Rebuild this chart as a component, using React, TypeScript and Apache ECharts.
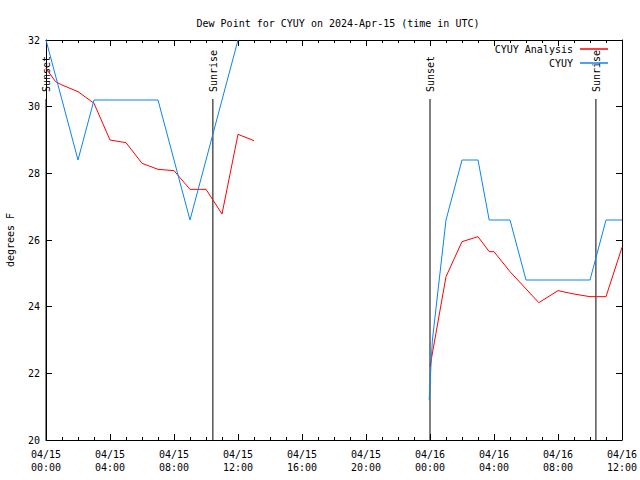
import React, { useEffect, useRef } from "react";
import * as echarts from "echarts";

// Hours since 2024-04-15 00:00 UTC
const analysisHours = [0, 0.6, 1, 2, 3, 4, 5, 6, 7, 8, 9, 10, 11, 12, 13, 18, 24, 25, 26, 27, 27.7, 28, 29, 30.8, 32, 33, 34, 35, 36];
const analysisDew = [31.15, 30.75, 30.65, 30.45, 30.1, 29.0, 28.92, 28.3, 28.12, 28.08, 27.52, 27.52, 26.78, 29.17, 28.98, null, 22.2, 24.9, 25.95, 26.1, 25.65, 25.65, 25.05, 24.12, 24.48, 24.38, 24.3, 24.3, 25.78];

const obsHours = [0, 1, 2, 3, 4, 5, 6, 7, 8, 9, 10, 11, 12, 18, 23.95, 24.0, 24.15, 25, 26, 27, 27.7, 28, 29, 30, 31, 32, 33, 34, 35, 36];
const obsDew = [32.0, 30.2, 28.4, 30.2, 30.2, 30.2, 30.2, 30.2, 28.4, 26.6, 28.4, 30.2, 32.0, null, 21.2, 21.7, 23.0, 26.6, 28.4, 28.4, 26.6, 26.6, 26.6, 24.8, 24.8, 24.8, 24.8, 24.8, 26.6, 26.6];

const sunHours = [0, 10.43, 24.0, 34.37];
const sunLabels = ["Sunset", "Sunrise", "Sunset", "Sunrise"];

const dayLabels = ["04/15", "04/16"];
const seriesNames = ["CYUY Analysis", "CYUY"];
const titleText = "Dew Point for CYUY on 2024-Apr-15 (time in UTC)";

const FONT = "DejaVu Sans Mono";

function pairs(xs: number[], ys: (number | null)[]) {
  return xs.map((x, i) => [x, ys[i] === null ? "-" : ys[i]]);
}

function fmtTime(v: number) {
  const idx = Math.min(Math.floor(v / 24), dayLabels.length - 1);
  const day = dayLabels[idx];
  const h = v === 36 ? 12 : Math.round(v % 24);
  const hh = String(h).padStart(2, "0");
  return `${day}\n${hh}:00`;
}

export default function App() {
  const ref = useRef<HTMLDivElement>(null);
  useEffect(() => {
    if (!ref.current) return;
    const chart = echarts.init(ref.current, undefined, { renderer: "svg" });
    const black = "#000";
    const tickCommon = {
      axisLine: { show: true, onZero: false, lineStyle: { color: black, width: 1 } },
      axisTick: { show: true, inside: true, length: 6, lineStyle: { color: black } },
      splitLine: { show: false },
    };
    chart.setOption({
      animation: false,
      backgroundColor: "#fff",
      textStyle: { fontFamily: FONT },
      title: {
        text: titleText,
        left: 333,
        top: 13,
        textAlign: "center",
        textStyle: { fontFamily: FONT, fontSize: 10, fontWeight: "normal", color: black },
      },
      legend: {
        data: seriesNames,
        orient: "vertical",
        right: 27,
        top: 39,
        align: "right",
        icon: "rect",
        itemWidth: 28,
        itemHeight: 1.5,
        itemGap: 4,
        textStyle: { fontFamily: FONT, fontSize: 10, color: black, padding: [0, 2, 0, 0] },
      },
      grid: { left: 46, right: 18, top: 40, bottom: 40, containLabel: false, outerBoundsMode: "none" },
      xAxis: [
        {
          type: "value",
          min: 0,
          max: 36,
          interval: 4,
          position: "bottom",
          ...tickCommon,
          minorTick: { show: true, splitNumber: 4, length: 3, lineStyle: { color: black } },
          minorSplitLine: { show: false },
          axisLabel: {
            formatter: fmtTime,
            color: black,
            fontFamily: FONT,
            fontSize: 10,
            lineHeight: 13,
            margin: 8,
          },
        },
        {
          type: "value",
          min: 0,
          max: 36,
          interval: 4,
          position: "top",
          ...tickCommon,
          minorTick: { show: true, splitNumber: 4, length: 3, lineStyle: { color: black } },
          axisLabel: { show: false },
        },
      ],
      yAxis: [
        {
          type: "value",
          min: 20,
          max: 32,
          interval: 2,
          position: "left",
          name: "degrees F",
          nameLocation: "middle",
          nameGap: 31,
          nameTextStyle: { fontFamily: FONT, fontSize: 10, color: black },
          ...tickCommon,
          axisLabel: { color: black, fontFamily: FONT, fontSize: 10, margin: 6 },
        },
        {
          type: "value",
          min: 20,
          max: 32,
          interval: 2,
          position: "right",
          ...tickCommon,
          axisLabel: { show: false },
        },
      ],
      series: [
        {
          name: seriesNames[0],
          type: "line",
          data: pairs(analysisHours, analysisDew),
          showSymbol: false,
          connectNulls: false,
          lineStyle: { color: "#ff0000", width: 1 },
          itemStyle: { color: "#ff0000" },
        },
        {
          name: seriesNames[1],
          type: "line",
          data: pairs(obsHours, obsDew),
          showSymbol: false,
          connectNulls: false,
          lineStyle: { color: "#0a84f0", width: 1 },
          itemStyle: { color: "#0a84f0" },
        },
        {
          name: "sun",
          type: "custom",
          data: sunHours.map((h) => [h]),
          clip: false,
          silent: true,
          renderItem: (params: any, api: any) => {
            const t = api.value(0);
            const bottom = api.coord([t, 20]);
            const top = api.coord([t, 30.23]);
            return {
              type: "group",
              children: [
                {
                  type: "line",
                  shape: { x1: bottom[0], y1: bottom[1], x2: top[0], y2: top[1] },
                  style: { stroke: black, lineWidth: 1 },
                },
                {
                  type: "text",
                  x: top[0] + 0.5,
                  y: top[1] - 7,
                  rotation: Math.PI / 2,
                  style: {
                    text: sunLabels[params.dataIndex],
                    fontFamily: FONT,
                    fontSize: 10,
                    fill: black,
                    textAlign: "left",
                    textVerticalAlign: "middle",
                  },
                },
              ],
            };
          },
        },
      ],
    });
    return () => chart.dispose();
  }, []);
  return (
    <div
      ref={ref}
      style={{ position: "fixed", left: 0, top: 0, width: 640, height: 480, background: "#fff" }}
    />
  );
}
